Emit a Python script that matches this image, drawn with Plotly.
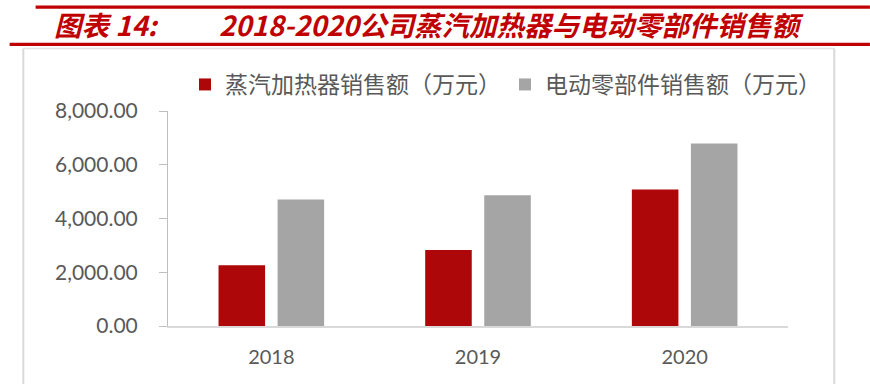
import plotly.graph_objects as go

# ---- data ----
years = ["2018", "2019", "2020"]
steam_heater = [2265, 2824, 5079]      # 蒸汽加热器销售额（万元）
electric_parts = [4708, 4868, 6789]    # 电动零部件销售额（万元）
series_names = ["蒸汽加热器销售额（万元）", "电动零部件销售额（万元）"]
ytick_vals = [0, 2000, 4000, 6000, 8000]
title_prefix = "图表 14:"
title_main = "2018-2020公司蒸汽加热器与电动零部件销售额"

W, H = 870, 384
ML, MR, MT = 167.5, 82, 110.7
Y0PX = 326.0
MB = H - Y0PX
PW = W - ML - MR
PH = Y0PX - MT


def X(px):
    return (px - ML) / PW


def Y(py):
    return (Y0PX - py) / PH


RED = "#AE0709"
GRAY = "#A5A5A5"
TXT = "#595959"
TITLE_RED = "#C00000"
CJK = "Noto Sans CJK SC"
NUM = "Lato"

fig = go.Figure()
fig.add_trace(go.Bar(x=years, y=steam_heater, name=series_names[0], legend="legend",
                     marker=dict(color=RED, line=dict(width=0))))
fig.add_trace(go.Bar(x=years, y=electric_parts, name=series_names[1], legend="legend2",
                     marker=dict(color=GRAY, line=dict(width=0))))

shapes = [
    # red rules around the title
    dict(type="rect", xref="paper", yref="paper", x0=X(35), x1=X(870), y0=Y(5), y1=Y(8.3),
         fillcolor=TITLE_RED, line=dict(width=0)),
    dict(type="rect", xref="paper", yref="paper", x0=X(9), x1=X(870), y0=Y(42.3), y1=Y(45.7),
         fillcolor=TITLE_RED, line=dict(width=0)),
    # light frame
    dict(type="line", xref="paper", yref="paper", x0=X(22.7), x1=X(22.7), y0=Y(48), y1=Y(390),
         line=dict(color="#D9D9D9", width=2)),
    dict(type="line", xref="paper", yref="paper", x0=X(22.7), x1=X(834.3), y0=Y(48), y1=Y(48),
         line=dict(color="#E3E3E3", width=1.5)),
    dict(type="line", xref="paper", yref="paper", x0=X(834.3), x1=X(834.3), y0=Y(48), y1=Y(390),
         line=dict(color="#D9D9D9", width=2)),
]

annotations = [
    dict(text="<b><i>" + title_prefix + "</i></b>", xref="paper", yref="paper",
         x=X(51), y=Y(23.5), xanchor="left", yanchor="middle", showarrow=False,
         font=dict(family=CJK, size=27.5, color=TITLE_RED)),
    dict(text="<b><i>" + title_main + "</i></b>", xref="paper", yref="paper",
         x=X(217), y=Y(23.5), xanchor="left", yanchor="middle", showarrow=False,
         font=dict(family=CJK, size=27.5, color=TITLE_RED)),
]

legend_common = dict(orientation="h", xref="container", yref="container",
                     xanchor="left", yanchor="middle", itemwidth=30,
                     font=dict(family=CJK, size=23, color=TXT),
                     bgcolor="rgba(0,0,0,0)")

fig.update_layout(
    width=W, height=H,
    margin=dict(l=ML, r=MR, t=MT, b=MB, pad=0, autoexpand=False),
    paper_bgcolor="white", plot_bgcolor="white",
    barmode="group", bargap=0.4285, bargroupgap=0.2115,
    shapes=shapes, annotations=annotations,
    showlegend=True,
    legend=dict(x=185 / W, y=1 - 84.5 / H, **legend_common),
    legend2=dict(x=505 / W, y=1 - 84.5 / H, **legend_common),
    xaxis=dict(showline=True, linecolor="#D9D9D9", linewidth=2, ticks="",
               showgrid=False, zeroline=False,
               tickfont=dict(family=NUM, size=20, color=TXT), ticklabelstandoff=12),
    yaxis=dict(range=[0, 8000], tickvals=ytick_vals, tickformat=",.2f",
               showline=True, linecolor="#BFBFBF", linewidth=1,
               ticks="outside", ticklen=8, tickcolor="#BFBFBF", tickwidth=1,
               showgrid=False, zeroline=False,
               tickfont=dict(family=NUM, size=21, color=TXT), ticklabelstandoff=17),
)

fig.write_html("out.html", config={"displayModeBar": False},
               post_script="document.body.style.margin='0';")
